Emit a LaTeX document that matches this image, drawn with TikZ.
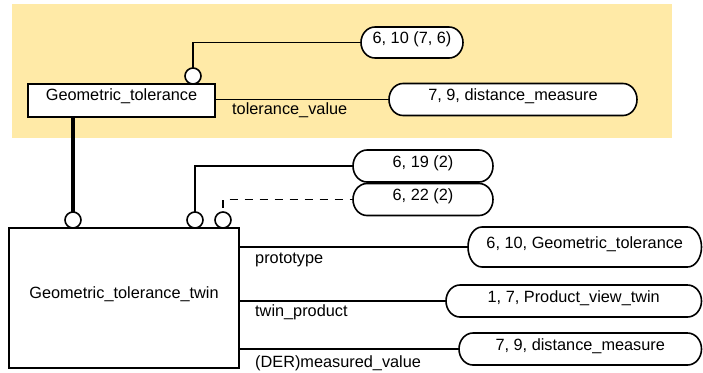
\documentclass[tikz,border=0pt]{standalone}
\usepackage{fontspec}
\setmainfont{Liberation Sans}
\newcommand{\diafont}{\fontsize{16.3}{19}\selectfont}
\definecolor{schemayellow}{RGB}{255,234,167}
% half-width of the elliptic ends of a reference pill
\newcommand{\pillrx}{14}
% \pillbox{name}{cx}{cy}{width}{height}{text}
\newcommand{\pillbox}[6]{%
  \draw[pillline]
    ({#2-#4/2+\pillrx},{#3-#5/2}) -- ({#2+#4/2-\pillrx},{#3-#5/2})
    arc[start angle=90,end angle=-90,x radius=\pillrx pt,y radius={#5/2*1pt}]
    -- ({#2-#4/2+\pillrx},{#3+#5/2})
    arc[start angle=270,end angle=90,x radius=\pillrx pt,y radius={#5/2*1pt}]
    -- cycle;
  \node[pilltext,minimum width=#4pt,minimum height=#5pt] (#1) at (#2,#3) {#6};
}
\tikzset{
  every node/.style={font=\diafont},
  pillline/.style={draw=black,line width=1.6pt,fill=white},
  pilltext/.style={inner sep=0pt,outer sep=0pt,text height=11pt,text depth=9pt},
  entity/.style={draw=black,line width=1.6pt,fill=white,inner sep=0pt,outer sep=0pt,
                 text height=10pt,text depth=10pt},
  ring/.style={circle,draw=black,line width=1.6pt,fill=white,minimum size=16pt,
               inner sep=0pt,outer sep=0pt},
  link/.style={line width=1.6pt},
  supertype/.style={line width=4pt},
  attr/.style={anchor=base west,inner sep=0pt}
}
\begin{document}
\begin{tikzpicture}[x=1pt,y=-1pt]
  \useasboundingbox (0,0) rectangle (703,372);
  % schema area
  \fill[schemayellow] (12,4) rectangle (672,138);

  % entities
  \node[entity,minimum width=187pt,minimum height=33pt] (gt) at (121.5,100.5) {Geometric\_tolerance};
  \node[entity,minimum width=230pt,minimum height=140pt] (gtt) at (124,298) {Geometric\_tolerance\_twin};

  % page references
  \pillbox{p1}{412}{42.5}{102}{31}{6, 10 (7, 6)}
  \pillbox{p2}{513}{99.5}{248}{32}{7, 9, distance\_measure}
  \pillbox{p3}{423}{166}{140}{32}{6, 19 (2)}
  \pillbox{p4}{423}{199.5}{140}{32}{6, 22 (2)}
  \pillbox{p5}{584.75}{247}{233.5}{40}{6, 10, Geometric\_tolerance}
  \tikzset{pilltext/.append style={text height=11pt,text depth=9pt}}
  \pillbox{p6}{573.75}{301}{255.5}{32}{1, 7, Product\_view\_twin}
  \pillbox{p7}{580.25}{349}{242.5}{32}{7, 9, distance\_measure}

  % relationship circles
  \node[ring] (c0) at (193,76) {};
  \node[ring] (c1) at (73,220) {};
  \node[ring] (c2) at (195,220) {};
  \node[ring] (c3) at (223,220) {};

  % connectors
  \draw[link] (c0.north) |- (p1.west);
  \draw[link] (p2.west -| gt.east) -- (p2.west);
  \draw[supertype] (gt.south -| c1.north) -- (c1.north);
  \draw[link] (c2.north) |- (p3.west);
  \draw[link,dash pattern=on 8pt off 7pt,dash phase=11pt] (c3.north) |- (p4.west);
  \draw[link] (p5.west -| gtt.east) -- (p5.west);
  \draw[link] (p6.west -| gtt.east) -- (p6.west);
  \draw[link] (p7.west -| gtt.east) -- (p7.west);

  % attribute names
  \node[attr] (a1) at (232,114) {tolerance\_value};
  \node[attr] (a2) at (255,263) {prototype};
  \node[attr] (a3) at (255,316) {twin\_product};
  \node[attr] (a4) at (255,367) {(DER)measured\_value};
\end{tikzpicture}
\end{document}
